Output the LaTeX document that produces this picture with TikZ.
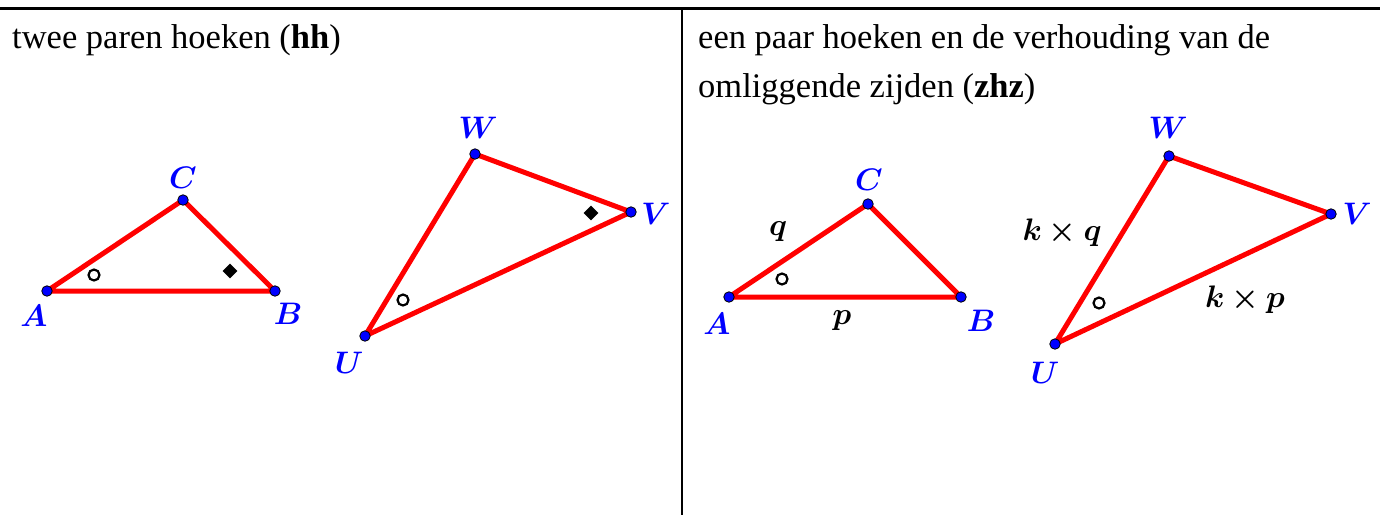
\documentclass[tikz,border=0pt]{standalone}
\usepackage{amsmath}
\usepackage{bm}
\usepackage{fontspec}
\setmainfont{Liberation Serif}
\usetikzlibrary{shapes.geometric}
\newcommand{\geolab}[1]{\scalebox{1.5}{$\bm{#1}$}}
\tikzset{
  pt/.style={circle,fill=blue,draw=black,line width=0.8pt,inner sep=0pt,minimum size=10.5pt},
  side/.style={draw=red,line width=5pt,line join=round},
  lbl/.style={text=blue,font=\fontsize{20}{24}\selectfont,inner sep=0pt},
  slbl/.style={text=black,font=\fontsize{20}{24}\selectfont,inner sep=0pt},
  circmark/.style={circle,draw=black,line width=2.2pt,inner sep=0pt,minimum size=11pt},
  diamark/.style={diamond,fill=black,inner sep=0pt,minimum size=15pt},
  caption/.style={anchor=base west,inner sep=0pt,font=\fontsize{34.5}{38}\selectfont},
  rule/.style={line width=2.5pt}
}
\begin{document}
\begin{tikzpicture}[x=1pt,y=-1pt]
\useasboundingbox (0,0) rectangle (1380,515);
% frame
\coordinate (tl) at (0,8.5);
\coordinate (tr) at (1380,8.5);
\coordinate (mt) at (682,8.5);
\coordinate (mb) at (682,515);
\draw[rule] (tl) -- (tr);
\draw[rule] (mt) -- (mb);
% captions
\node[caption] (t1) at (12,48) {twee paren hoeken (\textbf{hh})};
\node[caption] (t2) at (698,48) {een paar hoeken en de verhouding van de};
\node[caption] (t3) at (698,97) {omliggende zijden (\textbf{zhz})};
% left panel, triangle ABC
\coordinate (A1) at (47,291);
\coordinate (B1) at (275,291);
\coordinate (C1) at (183,200);
\draw[side] (A1) -- (B1) -- (C1) -- cycle;
\node[circmark] (m1) at (94,275) {};
\node[diamark] (d1) at (230,271) {};
\node[pt] (pA1) at (A1) {};
\node[pt] (pB1) at (B1) {};
\node[pt] (pC1) at (C1) {};
\node[lbl] (lA1) at (34,316) {\geolab{A}};
\node[lbl] (lB1) at (288,314) {\geolab{B}};
\node[lbl] (lC1) at (183,178) {\geolab{C}};
% left panel, triangle UVW
\coordinate (U1) at (365,336);
\coordinate (V1) at (631,212);
\coordinate (W1) at (475,154);
\draw[side] (U1) -- (V1) -- (W1) -- cycle;
\node[circmark] (m2) at (403,300) {};
\node[diamark] (d2) at (591,213) {};
\node[pt] (pU1) at (U1) {};
\node[pt] (pV1) at (V1) {};
\node[pt] (pW1) at (W1) {};
\node[lbl] (lU1) at (349,363) {\geolab{U}};
\node[lbl] (lV1) at (656,214) {\geolab{V}};
\node[lbl] (lW1) at (478,128) {\geolab{W}};
% right panel, triangle ABC
\coordinate (A2) at (729,297);
\coordinate (B2) at (961,297);
\coordinate (C2) at (868,204);
\draw[side] (A2) -- (B2) -- (C2) -- cycle;
\node[circmark] (m3) at (782,279) {};
\node[pt] (pA2) at (A2) {};
\node[pt] (pB2) at (B2) {};
\node[pt] (pC2) at (C2) {};
\node[lbl] (lA2) at (717,324) {\geolab{A}};
\node[lbl] (lB2) at (981,321) {\geolab{B}};
\node[lbl] (lC2) at (869,180) {\geolab{C}};
\node[slbl] (q) at (778,232) {\geolab{q}};
\node[slbl] (p) at (842,321) {\geolab{p}};
% right panel, triangle UVW
\coordinate (U2) at (1055,344);
\coordinate (V2) at (1331,214);
\coordinate (W2) at (1169,156);
\draw[side] (U2) -- (V2) -- (W2) -- cycle;
\node[circmark] (m4) at (1099,303) {};
\node[pt] (pU2) at (U2) {};
\node[pt] (pV2) at (V2) {};
\node[pt] (pW2) at (W2) {};
\node[lbl] (lU2) at (1045,373) {\geolab{U}};
\node[lbl] (lV2) at (1357,214) {\geolab{V}};
\node[lbl] (lW2) at (1168,128) {\geolab{W}};
\node[slbl] (kq) at (1062,233) {\geolab{k\times q}};
\node[slbl] (kp) at (1245,300) {\geolab{k\times p}};
\end{tikzpicture}
\end{document}
